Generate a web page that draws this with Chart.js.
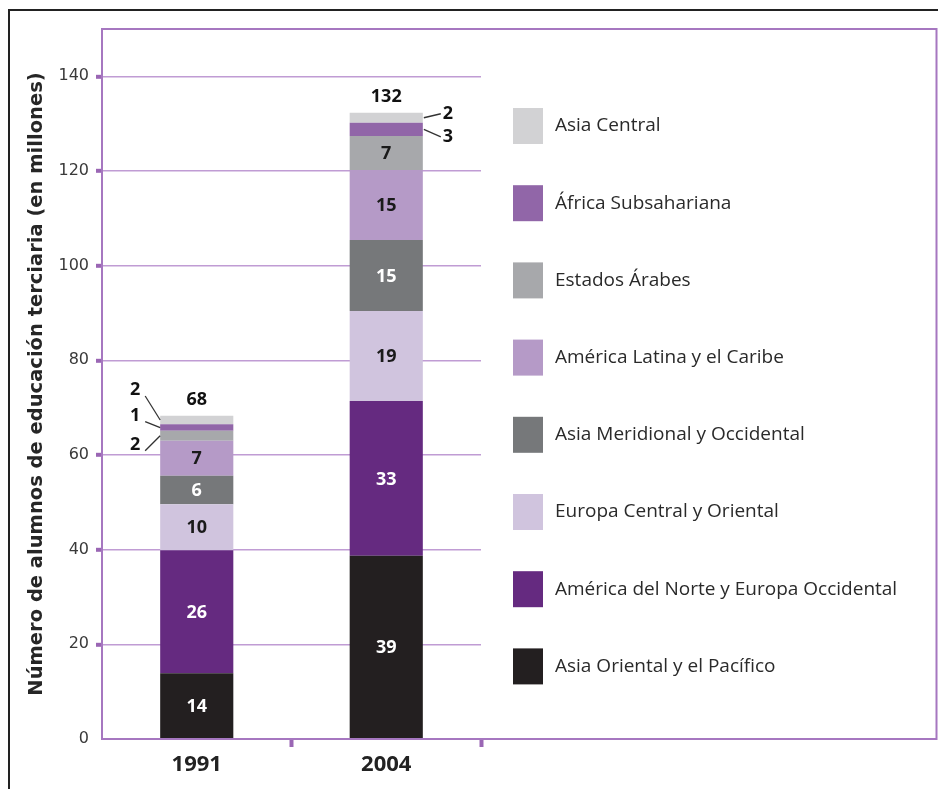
<!DOCTYPE html>
<html><head><meta charset="utf-8">
<script src="https://cdn.jsdelivr.net/npm/chart.js@4.4.0/dist/chart.umd.min.js"></script>
<style>html,body{margin:0;padding:0;background:#fff;}canvas{display:block}</style>
</head><body>
<canvas id="c" width="938" height="789"></canvas>
<script>
// ---- data ----
const categories = ['1991', '2004'];
const regionNames = [
  'Asia Oriental y el Pacífico',
  'América del Norte y Europa Occidental',
  'Europa Central y Oriental',
  'Asia Meridional y Occidental',
  'América Latina y el Caribe',
  'Estados Árabes',
  'África Subsahariana',
  'Asia Central'
];
const asiaOriental   = [13.9, 38.7];
const americaNorte   = [26.0, 32.7];
const europaCentral  = [9.7, 19.0];
const asiaMeridional = [6.0, 15.0];
const americaLatina  = [7.4, 14.8];
const estadosArabes  = [2.1, 7.2];
const africaSub      = [1.4, 2.8];
const asiaCentral    = [1.8, 2.1];
const seriesValues = [asiaOriental, americaNorte, europaCentral, asiaMeridional, americaLatina, estadosArabes, africaSub, asiaCentral];
const yTickValues = [0, 20, 40, 60, 80, 100, 120, 140];
const yAxisTitle = 'Número de alumnos de educación terciaria (en millones)';

// ---- styles ----
const regionColors = ['#231f20', '#652a80', '#d0c4de', '#76787a', '#b59ac7', '#a7a8ab', '#9166a8', '#d2d2d4'];
const labelColors  = ['#ffffff', '#ffffff', '#1a1a1a', '#ffffff', '#1a1a1a', '#1a1a1a', '#1a1a1a', '#1a1a1a'];
const framePurple = '#a677c0';
const gridPurple = '#c09cd4';
const tickPurple = '#9a66b4';
const boldFont = "'Open Sans', sans-serif";
// small-segment callouts: side (-1 left, +1 right) per category, vertical offset per dataset
const calloutSide = [-1, 1];
const calloutDy = { 0: { 7: -30, 6: -12, 5: 9 }, 1: { 7: -4, 6: 7.5 } };

const frameplugin = {
  id: 'frames',
  beforeDraw(chart) {
    const ctx = chart.ctx;
    ctx.save();
    ctx.fillStyle = '#fff';
    ctx.fillRect(0, 0, chart.width, chart.height);
    ctx.strokeStyle = '#222';
    ctx.lineWidth = 2;
    ctx.beginPath();
    ctx.moveTo(9, chart.height);
    ctx.lineTo(9, 10);
    ctx.lineTo(chart.width, 10);
    ctx.stroke();
    ctx.restore();
  },
  afterDatasetsDraw(chart) {
    const ctx = chart.ctx, a = chart.chartArea;
    const r = chart.width - 1.5;
    ctx.save();
    ctx.strokeStyle = framePurple;
    ctx.lineWidth = 2;
    ctx.beginPath();
    ctx.moveTo(a.left, a.top);
    ctx.lineTo(r, a.top);
    ctx.lineTo(r, a.bottom);
    ctx.lineTo(a.left, a.bottom);
    ctx.stroke();
    ctx.restore();
  }
};

const labelPlugin = {
  id: 'labels',
  afterDatasetsDraw(chart) {
    const ctx = chart.ctx;
    ctx.save();
    ctx.textAlign = 'center';
    ctx.textBaseline = 'middle';
    const nDs = chart.data.datasets.length;
    categories.forEach((cat, i) => {
      let topY = Infinity, barX = 0, half = 0;
      for (let d = 0; d < nDs; d++) {
        const meta = chart.getDatasetMeta(d);
        const el = meta.data[i];
        const v = chart.data.datasets[d].data[i];
        const segY = (el.y + el.base) / 2;
        topY = Math.min(topY, el.y);
        barX = el.x; half = el.width / 2;
        if (v >= 4) {
          ctx.font = "bold 18px " + boldFont;
          ctx.fillStyle = labelColors[d];
          ctx.fillText(String(Math.round(v)), el.x, segY + 1);
        } else {
          const side = calloutSide[i];
          const dy = calloutDy[i][d] || 0;
          const edge = el.x + side * half;
          const lx = edge + side * 25;
          const ly = segY + dy;
          ctx.strokeStyle = '#333';
          ctx.lineWidth = 1.3;
          ctx.beginPath();
          if (side < 0) { ctx.moveTo(edge - 15, ly + 6); ctx.lineTo(edge, segY); }
          else { ctx.moveTo(edge + 1, segY); ctx.lineTo(lx - 7, ly); }
          ctx.stroke();
          ctx.font = "bold 18px " + boldFont;
          ctx.fillStyle = '#111';
          ctx.fillText(String(Math.round(v)), lx, ly);
        }
      }
      const total = seriesValues.reduce((s, arr) => s + arr[i], 0);
      ctx.font = "bold 18px " + boldFont;
      ctx.fillStyle = '#111';
      ctx.fillText(String(Math.round(total)), barX, topY - 16);
    });
    ctx.restore();
  }
};

const legendPlugin = {
  id: 'customLegend',
  afterDraw(chart) {
    const ctx = chart.ctx, a = chart.chartArea;
    const ds = chart.data.datasets;
    const boxX = a.right + 32;
    const firstY = 126, step = 77.2;
    ctx.save();
    ctx.textBaseline = 'middle';
    ctx.textAlign = 'left';
    ctx.font = "19px 'Open Sans', sans-serif";
    for (let k = 0; k < ds.length; k++) {
      const d = ds.length - 1 - k;
      const cy = firstY + k * step;
      ctx.fillStyle = ds[d].backgroundColor;
      ctx.fillRect(boxX, cy - 18, 30, 36);
      ctx.fillStyle = '#2a2a2a';
      ctx.fillText(ds[d].label, boxX + 42, cy);
    }
    ctx.restore();
  }
};

const datasets = seriesValues.map((vals, d) => ({
  label: regionNames[d],
  data: vals,
  backgroundColor: regionColors[d],
  borderWidth: 0,
  categoryPercentage: 1.0,
  barPercentage: 0.386
}));

new Chart(document.getElementById('c'), {
  type: 'bar',
  data: { labels: categories, datasets },
  plugins: [frameplugin, labelPlugin, legendPlugin],
  options: {
    responsive: false,
    animation: false,
    devicePixelRatio: 1,
    layout: { padding: { left: 0, top: 29, right: 457, bottom: 0 } },
    plugins: { legend: { display: false }, tooltip: { enabled: false } },
    scales: {
      x: {
        stacked: true,
        afterFit: s => { s.height = 50; },
        grid: {
          display: true, drawOnChartArea: false, drawTicks: true, offset: true,
          tickLength: 8, tickWidth: 4,
          tickColor: c => (c.index === 0 ? 'rgba(0,0,0,0)' : tickPurple)
        },
        border: { display: true, color: framePurple, width: 2 },
        ticks: { color: '#222', padding: 5, font: { family: boldFont, weight: 'bold', size: 22 } }
      },
      y: {
        stacked: true,
        min: 0, max: 150,
        afterFit: s => { s.width = 102; },
        afterBuildTicks: s => { s.ticks = yTickValues.map(v => ({ value: v })).concat([{ value: 150 }]); },
        ticks: {
          color: '#3a3a3a', padding: 7,
          font: { family: "'DejaVu Sans', sans-serif", size: 16 },
          callback: v => (v === 150 ? '' : String(v))
        },
        grid: {
          color: c => (c.tick && (c.tick.value === 0 || c.tick.value === 150) ? 'rgba(0,0,0,0)' : gridPurple),
          lineWidth: 1.6,
          tickLength: 6, tickWidth: 4,
          tickColor: c => (c.tick && (c.tick.value === 0 || c.tick.value === 150) ? 'rgba(0,0,0,0)' : tickPurple)
        },
        border: { display: true, color: framePurple, width: 2 },
        title: {
          display: true, text: yAxisTitle, color: '#262626',
          font: { family: "'DejaVu Sans', sans-serif", weight: 'bold', size: 19.5 },
          padding: { top: 25, bottom: 0 }
        }
      }
    }
  }
});
</script>
</body></html>
